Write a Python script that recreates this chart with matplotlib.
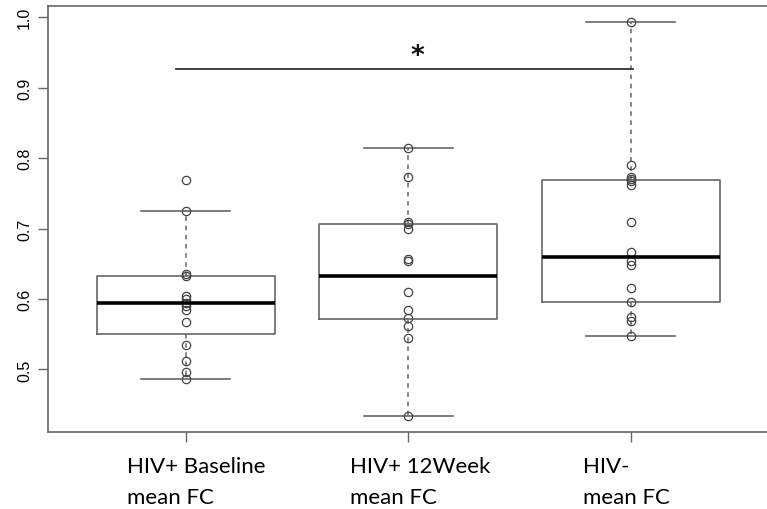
import matplotlib

matplotlib.use("Agg")

import matplotlib.pyplot as plt
import matplotlib.transforms as mtransforms

# values
groups = ["HIV+ Baseline\nmean FC", "HIV+ 12Week\nmean FC", "HIV-\nmean FC"]

baseline_fc = [0.769, 0.725, 0.636, 0.633, 0.604, 0.600, 0.595, 0.590,
               0.585, 0.568, 0.534, 0.512, 0.497, 0.487]
week12_fc = [0.814, 0.773, 0.709, 0.706, 0.699, 0.657, 0.654, 0.610,
             0.585, 0.573, 0.561, 0.544, 0.434]
hivneg_fc = [0.993, 0.790, 0.773, 0.770, 0.768, 0.762, 0.709, 0.666,
             0.654, 0.648, 0.616, 0.596, 0.575, 0.569, 0.548]

# box statistics as drawn in the reference
q1 = [0.551, 0.572, 0.596]
medians = [0.595, 0.632, 0.660]
q3 = [0.633, 0.707, 0.769]
whisker_lo = [0.487, 0.434, 0.548]
whisker_hi = [0.725, 0.814, 0.993]

sig_pair = (1, 3)
sig_level = 0.926
sig_mark = "*"

yticks = [0.5, 0.6, 0.7, 0.8, 0.9, 1.0]

fig = plt.figure(figsize=(7.67, 5.10), dpi=100)
ax = fig.add_axes([0.0625, 0.1516, 0.94, 0.834])

positions = [1, 2, 3]
frame = "#666666"

stats = [
    dict(med=m, q1=a, q3=b, whislo=lo, whishi=hi, fliers=[])
    for m, a, b, lo, hi in zip(medians, q1, q3, whisker_lo, whisker_hi)
]
ax.bxp(
    stats,
    positions=positions,
    widths=0.8,
    capwidths=0.4,
    showfliers=False,
    boxprops=dict(color=frame, linewidth=1.2),
    medianprops=dict(color="black", linewidth=2.6),
    whiskerprops=dict(color=frame, linewidth=1.1, linestyle=(0, (3, 3))),
    capprops=dict(color=frame, linewidth=1.2),
)

for pos, vals in zip(positions, [baseline_fc, week12_fc, hivneg_fc]):
    ax.plot([pos] * len(vals), vals, linestyle="none", marker="o",
            markersize=6, markerfacecolor="none", markeredgecolor="#444444",
            markeredgewidth=0.9)

# significance bar between baseline and HIV-
ax.plot([sig_pair[0] - 0.043, sig_pair[1] + 0.01], [sig_level, sig_level],
        color="#333333", linewidth=1.3)
ax.text(2.04, sig_level + 0.019, sig_mark, ha="center", va="center",
        fontsize=19, fontweight="bold", color="#111111")

all_vals = baseline_fc + week12_fc + hivneg_fc
lo, hi = min(all_vals), max(all_vals)
pad = 0.04 * (hi - lo)
ax.set_ylim(lo - pad, hi + pad)
ax.set_xlim(0.38, 3.62)

for side in ["top", "right", "bottom", "left"]:
    ax.spines[side].set_color(frame)
    ax.spines[side].set_linewidth(1.2)

ax.set_yticks(yticks)
ax.set_yticklabels([f"{t:.1f}" for t in yticks], rotation=90, va="center",
                   family="Liberation Sans", fontsize=11.5)
ax.tick_params(axis="y", length=7.5, width=1.0, color=frame, pad=4)

ax.set_xticks(positions)
ax.set_xticklabels([])
ax.tick_params(axis="x", length=7.5, width=1.0, color=frame)

# group labels, left aligned under each tick
label_shift = [-59, -58, -48]
for pos, text, dx in zip(positions, groups, label_shift):
    trans = ax.get_xaxis_transform() + mtransforms.ScaledTranslation(
        dx / 100, -24 / 100, fig.dpi_scale_trans)
    ax.text(pos, 0, text, transform=trans, ha="left", va="top",
            family="Lato", fontsize=16, linespacing=1.7)

fig.savefig("out.png", dpi=100)
